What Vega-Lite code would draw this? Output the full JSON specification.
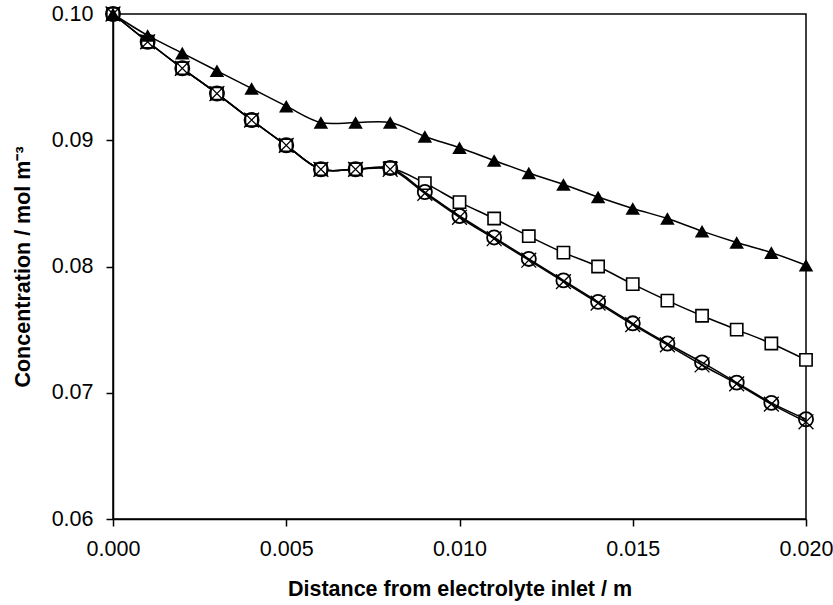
{
  "$schema": "https://vega.github.io/schema/vega-lite/v6.json",
  "width": 693,
  "height": 505,
  "autosize": {"type": "none"},
  "padding": {"left": 113, "top": 14, "right": 27, "bottom": 86},
  "background": "white",
  "config": {
    "view": {"stroke": "black", "strokeWidth": 1.5},
    "font": "Liberation Sans",
    "axis": {
      "grid": false,
      "domainColor": "black",
      "domainWidth": 1.5,
      "tickColor": "black",
      "tickWidth": 1.5,
      "tickSize": 7,
      "labelColor": "black",
      "labelFontSize": 21.5,
      "labelFont": "Liberation Sans",
      "labelFlush": false,
      "labelOverlap": false,
      "titleFont": "Liberation Sans",
      "titleFontSize": 21.5,
      "titleFontWeight": "bold",
      "titleColor": "black"
    }
  },
  "data": {
    "values": [
      {"d": 0.000, "c": 0.1000, "s": "T"}, {"d": 0.001, "c": 0.0983, "s": "T"}, {"d": 0.002, "c": 0.0969, "s": "T"},
      {"d": 0.003, "c": 0.0955, "s": "T"}, {"d": 0.004, "c": 0.0941, "s": "T"}, {"d": 0.005, "c": 0.0927, "s": "T"},
      {"d": 0.006, "c": 0.0914, "s": "T"}, {"d": 0.007, "c": 0.0914, "s": "T"}, {"d": 0.008, "c": 0.0914, "s": "T"},
      {"d": 0.009, "c": 0.0903, "s": "T"}, {"d": 0.010, "c": 0.0894, "s": "T"}, {"d": 0.011, "c": 0.0884, "s": "T"},
      {"d": 0.012, "c": 0.0874, "s": "T"}, {"d": 0.013, "c": 0.0865, "s": "T"}, {"d": 0.014, "c": 0.0855, "s": "T"},
      {"d": 0.015, "c": 0.0846, "s": "T"}, {"d": 0.016, "c": 0.0838, "s": "T"}, {"d": 0.017, "c": 0.0828, "s": "T"},
      {"d": 0.018, "c": 0.0819, "s": "T"}, {"d": 0.019, "c": 0.0811, "s": "T"}, {"d": 0.020, "c": 0.0801, "s": "T"},

      {"d": 0.000, "c": 0.1000, "s": "S"}, {"d": 0.001, "c": 0.0978, "s": "S"}, {"d": 0.002, "c": 0.0957, "s": "S"},
      {"d": 0.003, "c": 0.0937, "s": "S"}, {"d": 0.004, "c": 0.0916, "s": "S"}, {"d": 0.005, "c": 0.0896, "s": "S"},
      {"d": 0.006, "c": 0.0877, "s": "S"}, {"d": 0.007, "c": 0.0877, "s": "S"}, {"d": 0.008, "c": 0.0878, "s": "S"},
      {"d": 0.009, "c": 0.0866, "s": "S"}, {"d": 0.010, "c": 0.0851, "s": "S"}, {"d": 0.011, "c": 0.0838, "s": "S"},
      {"d": 0.012, "c": 0.0824, "s": "S"}, {"d": 0.013, "c": 0.0811, "s": "S"}, {"d": 0.014, "c": 0.0800, "s": "S"},
      {"d": 0.015, "c": 0.0786, "s": "S"}, {"d": 0.016, "c": 0.0773, "s": "S"}, {"d": 0.017, "c": 0.0761, "s": "S"},
      {"d": 0.018, "c": 0.0750, "s": "S"}, {"d": 0.019, "c": 0.0739, "s": "S"}, {"d": 0.020, "c": 0.0726, "s": "S"},

      {"d": 0.000, "c": 0.1000, "s": "C"}, {"d": 0.001, "c": 0.0978, "s": "C"}, {"d": 0.002, "c": 0.0957, "s": "C"},
      {"d": 0.003, "c": 0.0937, "s": "C"}, {"d": 0.004, "c": 0.0916, "s": "C"}, {"d": 0.005, "c": 0.0896, "s": "C"},
      {"d": 0.006, "c": 0.0877, "s": "C"}, {"d": 0.007, "c": 0.0877, "s": "C"}, {"d": 0.008, "c": 0.0878, "s": "C"},
      {"d": 0.009, "c": 0.0859, "s": "C"}, {"d": 0.010, "c": 0.0840, "s": "C"}, {"d": 0.011, "c": 0.0823, "s": "C"},
      {"d": 0.012, "c": 0.0806, "s": "C"}, {"d": 0.013, "c": 0.0789, "s": "C"}, {"d": 0.014, "c": 0.0772, "s": "C"},
      {"d": 0.015, "c": 0.0755, "s": "C"}, {"d": 0.016, "c": 0.0739, "s": "C"}, {"d": 0.017, "c": 0.0724, "s": "C"},
      {"d": 0.018, "c": 0.0708, "s": "C"}, {"d": 0.019, "c": 0.0692, "s": "C"}, {"d": 0.020, "c": 0.0679, "s": "C"},

      {"d": 0.000, "c": 0.1000, "s": "X"}, {"d": 0.001, "c": 0.0978, "s": "X"}, {"d": 0.002, "c": 0.0957, "s": "X"},
      {"d": 0.003, "c": 0.0937, "s": "X"}, {"d": 0.004, "c": 0.0916, "s": "X"}, {"d": 0.005, "c": 0.0896, "s": "X"},
      {"d": 0.006, "c": 0.0877, "s": "X"}, {"d": 0.007, "c": 0.0877, "s": "X"}, {"d": 0.008, "c": 0.0877, "s": "X"},
      {"d": 0.009, "c": 0.0858, "s": "X"}, {"d": 0.010, "c": 0.0839, "s": "X"}, {"d": 0.011, "c": 0.0822, "s": "X"},
      {"d": 0.012, "c": 0.0805, "s": "X"}, {"d": 0.013, "c": 0.0788, "s": "X"}, {"d": 0.014, "c": 0.0771, "s": "X"},
      {"d": 0.015, "c": 0.0754, "s": "X"}, {"d": 0.016, "c": 0.0738, "s": "X"}, {"d": 0.017, "c": 0.0722, "s": "X"},
      {"d": 0.018, "c": 0.0707, "s": "X"}, {"d": 0.019, "c": 0.0691, "s": "X"}, {"d": 0.020, "c": 0.0677, "s": "X"}
    ]
  },
  "encoding": {
    "x": {
      "field": "d", "type": "quantitative",
      "title": "Distance from electrolyte inlet / m",
      "scale": {"domain": [0, 0.02], "nice": false},
      "axis": {"values": [0, 0.005, 0.01, 0.015, 0.02], "format": ".3f", "labelPadding": 12, "titlePadding": 19}
    },
    "y": {
      "field": "c", "type": "quantitative",
      "title": "Concentration / mol m⁻³",
      "scale": {"domain": [0.06, 0.1], "nice": false, "zero": false},
      "axis": {"values": [0.06, 0.07, 0.08, 0.09, 0.1], "format": ".2f", "labelPadding": 13, "titlePadding": 17}
    }
  },
  "layer": [
    {
      "mark": {"type": "line", "color": "black", "strokeWidth": 1.5, "interpolate": "catmull-rom"},
      "encoding": {"detail": {"field": "s"}}
    },
    {
      "mark": {"type": "point", "filled": false, "stroke": "black", "fill": "white", "fillOpacity": 1, "strokeWidth": 1.6, "shape": "square", "size": 150, "opacity": 1},
      "transform": [{"filter": "datum.s === 'S'"}]
    },
    {
      "mark": {"type": "point", "filled": false, "stroke": "black", "strokeWidth": 1.8, "shape": "circle", "size": 200, "opacity": 1},
      "transform": [{"filter": "datum.s === 'C'"}]
    },
    {
      "mark": {"type": "point", "filled": false, "stroke": "black", "strokeWidth": 1.3, "shape": "M-1,-1L1,1M-1,1L1,-1", "size": 220, "opacity": 1},
      "transform": [{"filter": "datum.s === 'X'"}]
    },
    {
      "mark": {"type": "point", "filled": true, "color": "black", "shape": "triangle-up", "size": 210, "opacity": 1},
      "transform": [{"filter": "datum.s === 'T'"}]
    }
  ]
}
